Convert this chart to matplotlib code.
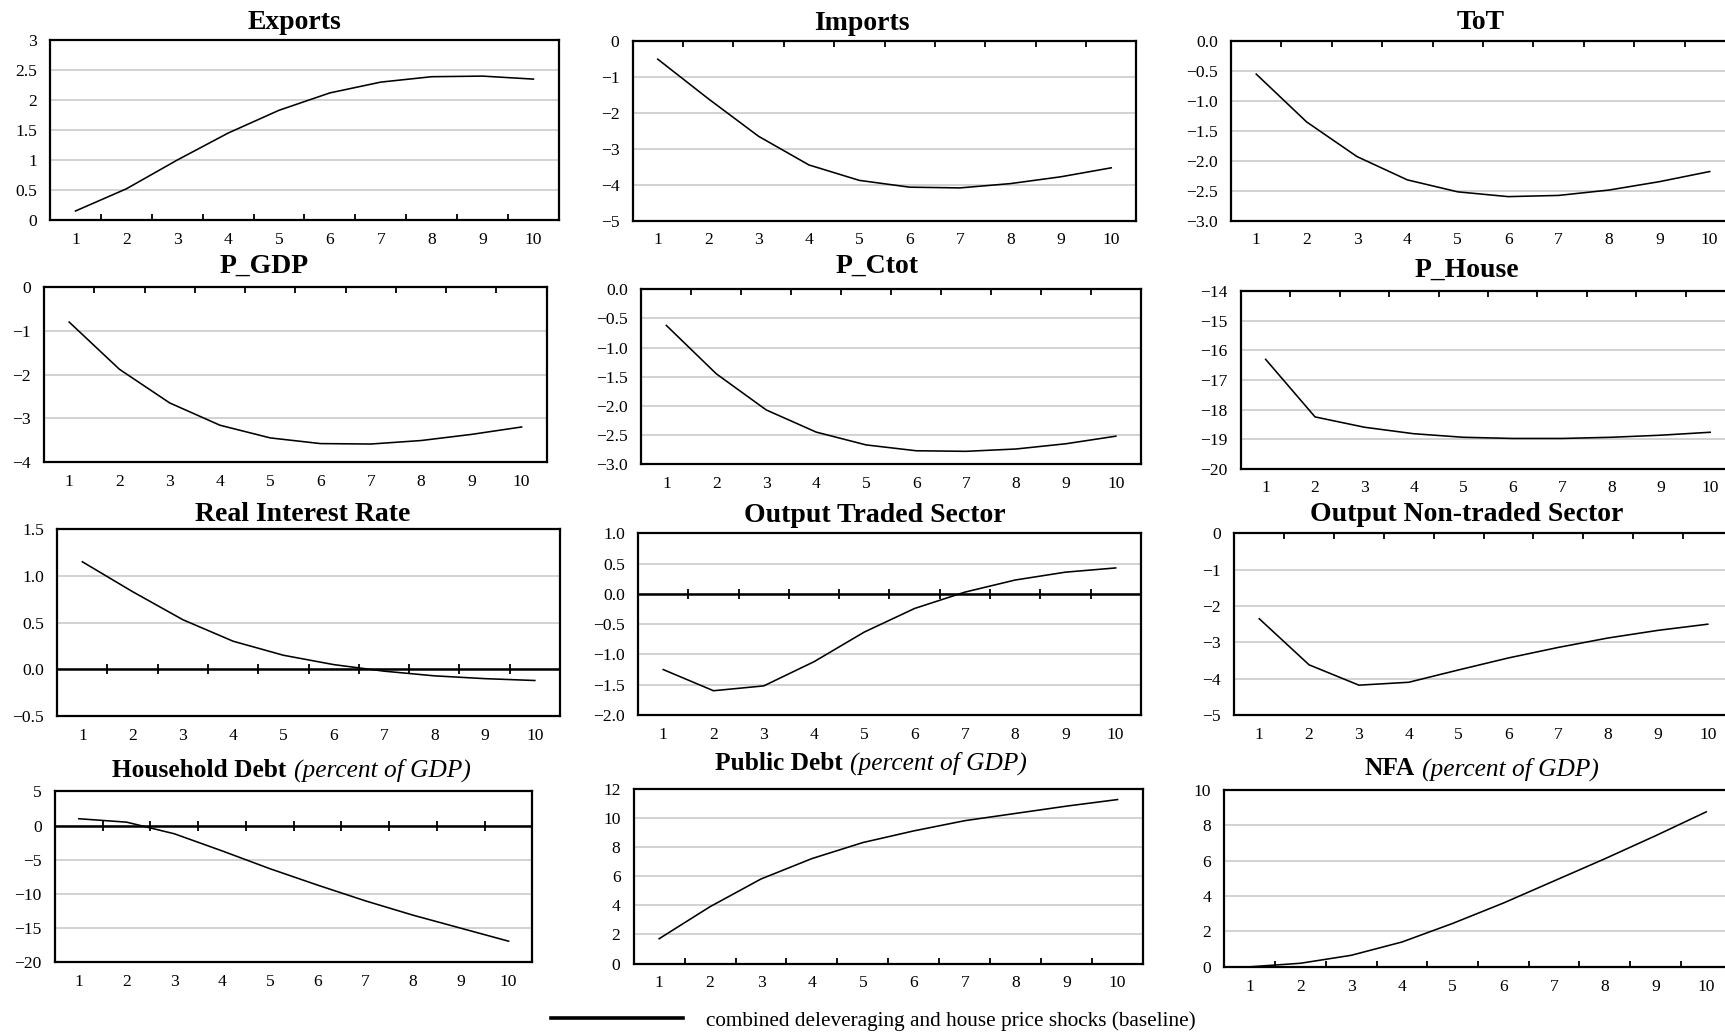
import matplotlib
matplotlib.use("Agg")
import matplotlib.pyplot as plt
from matplotlib.ticker import FuncFormatter
from matplotlib.markers import TICKUP, TICKDOWN
from matplotlib.lines import Line2D

plt.rcParams['font.family'] = ['Liberation Serif', 'DejaVu Serif']

# ---------------- data ----------------
periods = [1, 2, 3, 4, 5, 6, 7, 8, 9, 10]

exports = [0.15, 0.52, 1.00, 1.45, 1.83, 2.12, 2.30, 2.39, 2.40, 2.35]
imports = [-0.50, -1.60, -2.65, -3.45, -3.88, -4.07, -4.09, -3.97, -3.78, -3.53]
tot = [-0.55, -1.35, -1.93, -2.32, -2.52, -2.60, -2.58, -2.49, -2.35, -2.18]
p_gdp = [-0.80, -1.88, -2.65, -3.16, -3.45, -3.58, -3.59, -3.51, -3.37, -3.20]
p_ctot = [-0.62, -1.45, -2.07, -2.45, -2.67, -2.77, -2.78, -2.74, -2.65, -2.52]
p_house = [-16.3, -18.25, -18.6, -18.82, -18.94, -18.98, -18.98, -18.94, -18.87, -18.77]
real_rate = [1.15, 0.83, 0.53, 0.30, 0.15, 0.05, -0.02, -0.07, -0.10, -0.12]
out_traded = [-1.25, -1.60, -1.52, -1.12, -0.63, -0.24, 0.03, 0.23, 0.36, 0.43]
out_nontraded = [-2.35, -3.62, -4.18, -4.10, -3.76, -3.43, -3.14, -2.88, -2.67, -2.50]
hh_debt = [1.0, 0.5, -1.2, -3.7, -6.3, -8.7, -11.0, -13.1, -15.0, -16.9]
pub_debt = [1.7, 3.9, 5.8, 7.2, 8.3, 9.1, 9.8, 10.3, 10.8, 11.25]
nfa = [0.0, 0.2, 0.65, 1.4, 2.45, 3.6, 4.85, 6.1, 7.4, 8.75]

yt_exports = [0, 0.5, 1, 1.5, 2, 2.5, 3]
yt_imports = [-5, -4, -3, -2, -1, 0]
yt_tot = [-3.0, -2.5, -2.0, -1.5, -1.0, -0.5, 0.0]
yt_pgdp = [-4, -3, -2, -1, 0]
yt_pctot = [-3.0, -2.5, -2.0, -1.5, -1.0, -0.5, 0.0]
yt_phouse = [-20, -19, -18, -17, -16, -15, -14]
yt_rate = [-0.5, 0.0, 0.5, 1.0, 1.5]
yt_traded = [-2.0, -1.5, -1.0, -0.5, 0.0, 0.5, 1.0]
yt_nontraded = [-5, -4, -3, -2, -1, 0]
yt_hh = [-20, -15, -10, -5, 0, 5]
yt_pub = [0, 2, 4, 6, 8, 10, 12]
yt_nfa = [0, 2, 4, 6, 8, 10]

legend_label = "combined deleveraging and house price shocks (baseline)"

# ---------------- layout ----------------
W, H = 1568.0, 941.0          # reference (shown) coordinate frame
FW, FH = 1725.0, 1035.0       # output pixels
fig = plt.figure(figsize=(17.25, 10.35), dpi=100)
renderer = fig.canvas.get_renderer()


def make_fmt(dec):
    def f(v, pos):
        s = ('%g' % v) if dec is None else ('%.*f' % (dec, v))
        if s.startswith('-'):
            s = '\u2212' + s[1:]
        return s
    return FuncFormatter(f)


def title(cx, by, bold, ital, fs):
    x_full = cx * FW / W
    y_frac = 1 - by / H
    t1 = fig.text(0, y_frac, bold, fontsize=fs, weight='bold',
                  ha='left', va='baseline')
    w1 = t1.get_window_extent(renderer).width
    if ital:
        t2 = fig.text(0, y_frac, ital, fontsize=fs, style='italic',
                      ha='left', va='baseline')
        w2 = t2.get_window_extent(renderer).width
        gap = fs * 0.28 * 100 / 72
        x0 = x_full - (w1 + gap + w2) / 2
        t1.set_x(x0 / FW)
        t2.set_x((x0 + w1 + gap) / FW)
    else:
        t1.set_x((x_full - w1 / 2) / FW)


def panel(box, tpos, bold, ital, values, yticks, dec, tfs=20):
    L, T, R, B = box
    ax = fig.add_axes([L / W, 1 - B / H, (R - L) / W, (B - T) / H])
    ax.set_xlim(0.5, 10.5)
    ax.set_ylim(min(yticks), max(yticks))
    ax.set_yticks(yticks)
    ax.yaxis.set_major_formatter(make_fmt(dec))
    ax.set_xticks(periods)
    ax.set_xticklabels([str(p) for p in periods])
    ax.tick_params(axis='both', length=0, labelsize=12.6)
    ax.tick_params(axis='y', pad=9.5)
    ax.tick_params(axis='x', pad=8.5)
    ax.grid(axis='y', color='#c6c6c6', lw=1.1)
    ax.grid(axis='x', visible=False)
    ax.set_axisbelow(True)
    for s in ax.spines.values():
        s.set_linewidth(1.6)
        s.set_color('black')
    ax.plot(periods, values, color='black', lw=1.15, zorder=4)
    lo, hi = ax.get_ylim()
    bounds = [p + 0.5 for p in periods[:-1]]
    if lo < 0 < hi:
        ax.axhline(0, color='black', lw=1.8, zorder=3)
        ax.plot(bounds, [0] * len(bounds), ls='none', marker='|', ms=7,
                mew=1.3, color='black', zorder=3)
    elif lo >= 0:
        ax.plot(bounds, [lo] * len(bounds), ls='none', marker=TICKUP, ms=4,
                mew=1.3, color='black', clip_on=False, zorder=3)
    else:
        ax.plot(bounds, [hi] * len(bounds), ls='none', marker=TICKDOWN, ms=4,
                mew=1.3, color='black', clip_on=False, zorder=3)
    title(tpos[0], tpos[1], bold, ital, tfs)
    return ax


# row 1
panel((45.5, 36.5, 508, 200), (268, 26), "Exports", None, exports, yt_exports, None)
panel((575, 37.5, 1033, 200.5), (783, 27), "Imports", None, imports, yt_imports, None)
panel((1119, 37.5, 1577, 200.5), (1346, 26), "ToT", None, tot, yt_tot, 1)
# row 2
panel((40, 261, 497, 420), (240, 248), "P_GDP", None, p_gdp, yt_pgdp, None)
panel((583, 263, 1037, 422), (797, 248), "P_Ctot", None, p_ctot, yt_pctot, 1)
panel((1128, 265, 1577, 426), (1333, 252), "P_House", None, p_house, yt_phouse, None)
# row 3
panel((52, 481, 509, 651), (275, 474), "Real Interest Rate", None, real_rate, yt_rate, 1)
panel((580, 485, 1037, 650), (795, 475), "Output Traded Sector", None, out_traded, yt_traded, 1)
panel((1122, 485, 1575, 650), (1333, 474), "Output Non-traded Sector", None,
      out_nontraded, yt_nontraded, None)
# row 4
panel((50, 719.5, 484, 875), (265, 706), "Household Debt", "(percent of GDP)",
      hh_debt, yt_hh, None, tfs=18.3)
panel((576, 717, 1039, 876), (792, 700), "Public Debt", "(percent of GDP)",
      pub_debt, yt_pub, None, tfs=18.3)
panel((1113, 718, 1574, 879), (1347, 705), "NFA", "(percent of GDP)",
      nfa, yt_nfa, None, tfs=18.3)

# legend
handle = Line2D([], [], color='black', lw=2.6)
fig.legend(handles=[handle], labels=[legend_label], loc='center',
           bbox_to_anchor=(794 / W, 1 - 928 / H), frameon=False, fontsize=15.3,
           handlelength=6.2, handletextpad=1.1, borderpad=0, borderaxespad=0)

fig.savefig("out.png", dpi=100)
